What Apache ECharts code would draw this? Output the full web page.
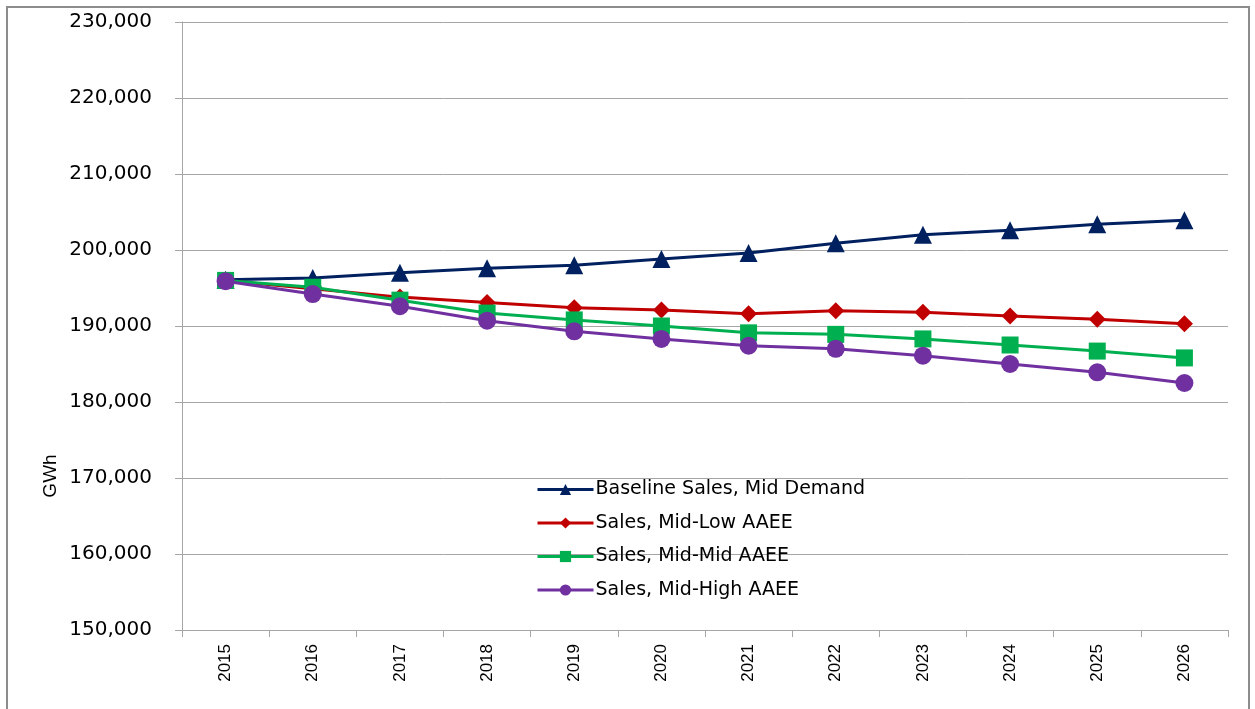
<!DOCTYPE html>
<html>
<head>
<meta charset="utf-8">
<script src="https://cdn.jsdelivr.net/npm/echarts@6/dist/echarts.min.js"></script>
<style>
  html, body { margin: 0; padding: 0; background: #fff; }
  #frame {
    position: absolute; left: 6px; top: 6px;
    width: 1244px; height: 710px;
    border: 2px solid #8c8c8c; box-sizing: border-box;
  }
  #chart { position: absolute; left: 0; top: 0; width: 1255px; height: 709px; }
</style>
</head>
<body>
<div id="frame"></div>
<div id="chart"></div>
<script>
// years on the x axis
const years = ['2015', '2016', '2017', '2018', '2019', '2020', '2021', '2022', '2023', '2024', '2025', '2026']

// GWh
const baselineMid = [196100, 196300, 197000, 197600, 198000, 198800, 199600, 200900, 202000, 202600, 203400, 203900]
const midLowAAEE  = [196000, 194900, 193800, 193100, 192400, 192100, 191600, 192000, 191800, 191300, 190900, 190300]
const midMidAAEE  = [196000, 195100, 193400, 191700, 190800, 190000, 189100, 188900, 188300, 187500, 186700, 185800]
const midHighAAEE = [195900, 194200, 192600, 190700, 189300, 188300, 187400, 187000, 186100, 185000, 183900, 182500]

const seriesNames = [
  'Baseline Sales, Mid Demand',
  'Sales, Mid-Low AAEE',
  'Sales, Mid-Mid AAEE',
  'Sales, Mid-High AAEE'
]

const chart = echarts.init(document.getElementById('chart'))

const lineSeries = (name, data, color, symbol, size) => ({
  name,
  type: 'line',
  data,
  symbol,
  symbolSize: size,
  showAllSymbol: true,
  lineStyle: { color, width: 3 },
  itemStyle: { color },
  emphasis: { disabled: true },
  animation: false
})

chart.setOption({
  backgroundColor: 'transparent',
  grid: { left: 182, right: 27, top: 22, bottom: 79 },
  legend: {
    orient: 'vertical',
    left: 531,
    top: 475,
    itemWidth: 56,
    itemHeight: 14,
    itemGap: 14.5,
    lineStyle: { width: 3 },
    textStyle: { fontFamily: 'DejaVu Sans', fontSize: 19, color: '#000', padding: [0, 0, 0, -3] },
    data: seriesNames
  },
  xAxis: {
    type: 'category',
    data: years,
    boundaryGap: true,
    axisLine: { lineStyle: { color: '#a6a6a6', width: 1 } },
    axisTick: { show: true, length: 7, lineStyle: { color: '#a6a6a6' } },
    axisLabel: {
      rotate: 90,
      margin: 14,
      fontFamily: 'Liberation Sans Narrow, Liberation Sans, sans-serif',
      fontSize: 17,
      color: '#000'
    }
  },
  yAxis: {
    type: 'value',
    min: 150000,
    max: 230000,
    interval: 10000,
    name: 'GWh',
    nameLocation: 'middle',
    nameGap: 122,
    nameRotate: 90,
    nameMoveOverlap: false,
    nameTextStyle: { fontFamily: 'Liberation Sans', fontSize: 19, color: '#000', padding: [0, 0, 0, -300] },
    axisLine: { show: true, lineStyle: { color: '#a6a6a6', width: 1 } },
    axisTick: { show: true, length: 7, lineStyle: { color: '#a6a6a6' } },
    splitLine: { lineStyle: { color: '#a6a6a6', width: 1 } },
    axisLabel: {
      margin: 30,
      fontFamily: 'DejaVu Sans',
      fontSize: 20,
      color: '#000',
      formatter: v => v.toLocaleString('en-US')
    }
  },
  series: [
    lineSeries(seriesNames[0], baselineMid, '#002060', 'triangle', 18),
    lineSeries(seriesNames[1], midLowAAEE, '#C00000', 'diamond', 17),
    lineSeries(seriesNames[2], midMidAAEE, '#00B050', 'rect', 17),
    lineSeries(seriesNames[3], midHighAAEE, '#7030A0', 'circle', 18)
  ]
})
</script>
</body>
</html>
